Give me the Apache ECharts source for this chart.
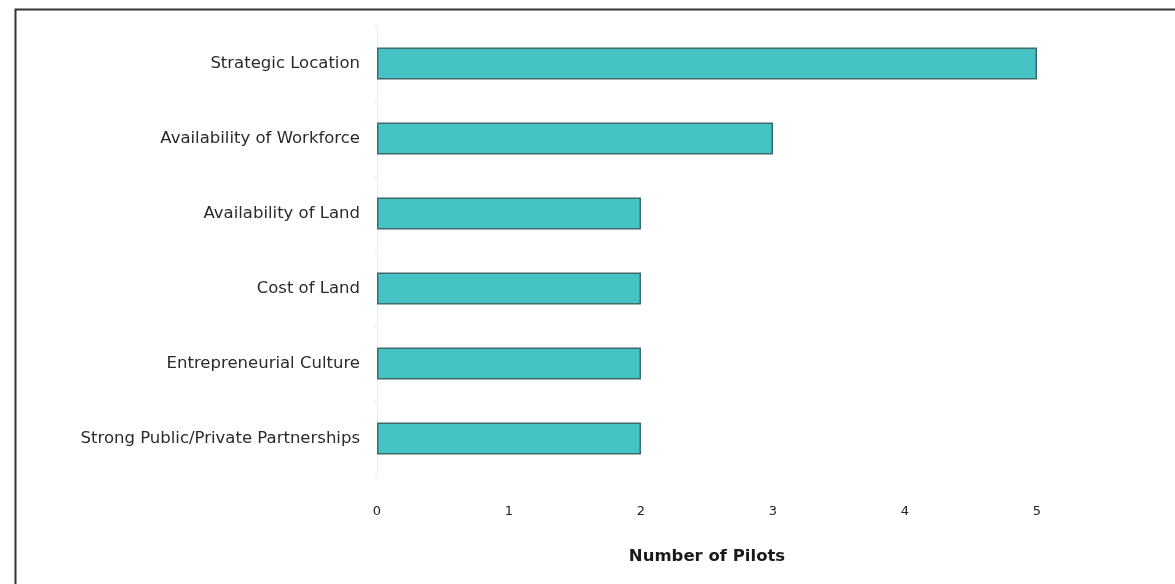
<!DOCTYPE html>
<html>
<head>
<meta charset="utf-8">
<script src="https://cdn.jsdelivr.net/npm/echarts@6/dist/echarts.min.js"></script>
<style>
  html, body { margin: 0; padding: 0; background: #fff; }
  #chart { width: 1175px; height: 584px; }
</style>
</head>
<body>
<div id="chart"></div>
<script>
// Site selection factors, listed top to bottom
const factors = [
  'Strategic Location',
  'Availability of Workforce',
  'Availability of Land',
  'Cost of Land',
  'Entrepreneurial Culture',
  'Strong Public/Private Partnerships'
];
// Number of pilots citing each factor
const pilots = [5, 3, 2, 2, 2, 2];
const xTicks = ['0', '1', '2', '3', '4', '5'];

const chart = echarts.init(document.getElementById('chart'), null, { renderer: 'canvas' });
const font = '"DejaVu Sans", sans-serif';

chart.setOption({
  animation: false,
  backgroundColor: '#ffffff',
  graphic: [{
    type: 'rect',
    shape: { x: 15.5, y: 9.5, width: 1200, height: 620 },
    style: { fill: 'none', stroke: '#333', lineWidth: 2 },
    silent: true
  }],
  grid: { left: 377, right: 138, top: 26, bottom: 108, containLabel: false },
  xAxis: {
    type: 'value',
    min: 0, max: 5, interval: 1,
    axisLine: { show: false },
    axisTick: { show: false },
    splitLine: { show: false },
    axisLabel: {
      margin: 29, fontSize: 13, color: '#222', fontFamily: font,
      formatter: v => xTicks[v]
    },
    name: 'Number of Pilots',
    nameLocation: 'middle',
    nameGap: 72,
    nameTextStyle: { fontSize: 16.5, fontWeight: 'bold', color: '#1a1a1a', fontFamily: font }
  },
  yAxis: {
    type: 'category',
    data: factors,
    inverse: true,
    axisLine: { show: true, lineStyle: { color: '#ececec', width: 1 } },
    axisTick: { show: true, length: 3, lineStyle: { color: '#ececec' } },
    axisLabel: { margin: 17, fontSize: 16.5, color: '#2a2a2a', fontFamily: font }
  },
  series: [{
    type: 'bar',
    data: pilots,
    barWidth: 32,
    itemStyle: { color: '#45c3c4', borderColor: '#3d6b6c', borderWidth: 1.5 }
  }]
});
</script>
</body>
</html>
